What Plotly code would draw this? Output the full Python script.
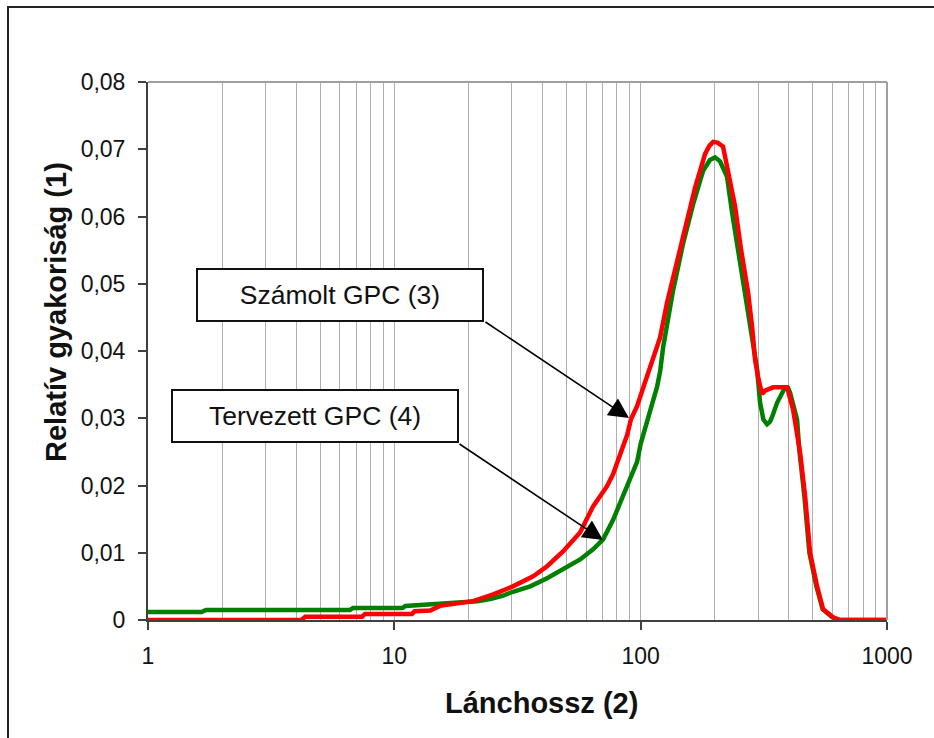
import plotly.graph_objects as go

# ---- data ----
green_x = [1, 1.65, 1.72, 6.6, 6.8, 10.8, 11.1, 14.9, 18.0, 21.7, 24.5, 27.5, 30.3, 35.6, 41.7,
           48.4, 56.8, 64.1, 70.4, 77.3, 84.8, 96.7, 100, 106.2, 112.3, 116.6, 120, 123.3, 135.4,
           148.7, 163.2, 179.2, 191, 200.5, 210, 224.2, 235, 253.2, 278.1, 296.9, 305.3, 315,
           326, 335, 341.6, 357.9, 385.8, 396.7, 404.2, 431.5, 440, 462, 484, 517, 548, 600,
           640, 1000]
green_y = [0.0012, 0.0012, 0.0015, 0.0015, 0.0018, 0.0018, 0.0021, 0.0024, 0.0026, 0.0028,
           0.0031, 0.0036, 0.0042, 0.0050, 0.0062, 0.0075, 0.0090, 0.0105, 0.0120, 0.0149,
           0.0184, 0.0235, 0.0262, 0.0295, 0.0325, 0.0347, 0.0370, 0.0405, 0.0490, 0.0560, 0.0618,
           0.0668, 0.0684, 0.0688, 0.0682, 0.0659, 0.0606, 0.0532, 0.0432, 0.0373, 0.0323,
           0.0298, 0.0291, 0.0295, 0.0302, 0.0323, 0.0346, 0.0345, 0.0338, 0.0298, 0.0255,
           0.0184, 0.0100, 0.0050, 0.0016, 0.0004, 0.0, 0.0]

red_x = [1, 4.2, 4.35, 7.4, 7.6, 11.8, 12.1, 14.0, 15.3, 18.0, 20.9, 25.2, 30.3, 36.6, 41.7,
         48.4, 56.75, 64.1, 73.0, 77.3, 82.5, 88.1, 91.4, 96.7, 102.3, 112.3, 119.9, 128.0,
         141.9, 154.3, 166.3, 182.6, 190, 196.8, 205, 216, 224.2, 241.7, 255.6, 273.0, 283.4,
         291.4, 300, 311.1, 320, 344.8, 370, 392.9, 415.6, 435.6, 443.8, 465.1, 487.3, 520.3,
         550.3, 604.2, 645, 1000]
red_y = [0.0, 0.0, 0.0005, 0.0005, 0.0009, 0.0009, 0.0013, 0.0014, 0.0021, 0.0025, 0.0028,
         0.0038, 0.0050, 0.0065, 0.0080, 0.0102, 0.0130, 0.0169, 0.0199, 0.0217, 0.0245,
         0.0275, 0.0299, 0.0318, 0.0345, 0.0390, 0.0420, 0.0472, 0.0538, 0.0590, 0.0643,
         0.0693, 0.0705, 0.0711, 0.0710, 0.0704, 0.0674, 0.0615, 0.0551, 0.0487, 0.0436,
         0.0387, 0.0360, 0.0336, 0.0341, 0.0346, 0.0346, 0.0346, 0.0313, 0.0273, 0.0249,
         0.0184, 0.0100, 0.0050, 0.0016, 0.0004, 0.0, 0.0]

x_major = [1, 10, 100, 1000]
x_major_text = ["1", "10", "100", "1000"]
x_minor = [m * d for d in (1, 10, 100) for m in range(2, 10)]
y_ticks = [0, 0.01, 0.02, 0.03, 0.04, 0.05, 0.06, 0.07, 0.08]
y_ticktext = ["0", "0,01", "0,02", "0,03", "0,04", "0,05", "0,06", "0,07", "0,08"]

label_green = "Tervezett GPC (4)"
label_red = "Számolt GPC (3)"
x_title = "Lánchossz (2)"
y_title = "Relatív gyakoriság (1)"

FONT = "Liberation Sans, Arial, sans-serif"
W, H = 934, 738
L, R, T, B = 148, 47, 82, 118
PW, PH = W - L - R, H - T - B


def px(xp):
    return (xp - L) / PW


def py(yp):
    return (H - B - yp) / PH


fig = go.Figure()
fig.add_trace(go.Scatter(x=green_x, y=green_y, mode="lines", name=label_green,
                         line=dict(color="#008000", width=4.5), showlegend=False))
fig.add_trace(go.Scatter(x=red_x, y=red_y, mode="lines", name=label_red,
                         line=dict(color="#FF0000", width=4.5), showlegend=False))

grid = "#b0b0b0"
fig.update_xaxes(type="log", range=[0, 3], tickmode="array", tickvals=x_major,
                 ticktext=x_major_text, showgrid=True, gridcolor=grid, gridwidth=1.3,
                 minor=dict(tickmode="array", tickvals=x_minor, showgrid=True,
                            gridcolor=grid, gridwidth=1.3, ticks=""),
                 showline=True, linecolor="#404040", linewidth=2, ticks="outside",
                 ticklen=8, tickwidth=1.5, tickcolor="#404040", zeroline=False,
                 tickfont=dict(family=FONT, size=23, color="#111"),
                 ticklabelstandoff=6)
fig.update_yaxes(range=[0, 0.08], tickmode="array", tickvals=y_ticks, ticktext=y_ticktext,
                 showgrid=False, zeroline=False, showline=True, linecolor="#404040",
                 linewidth=2, ticks="outside", ticklen=8, tickwidth=1.5, tickcolor="#404040",
                 tickfont=dict(family=FONT, size=23, color="#111"), ticklabelstandoff=8)

shapes = [
    # plot area top and right border
    dict(type="line", xref="paper", yref="paper", x0=0, x1=1, y0=1, y1=1,
         line=dict(color="#a0a0a0", width=2)),
    dict(type="line", xref="paper", yref="paper", x0=1, x1=1, y0=0, y1=1,
         line=dict(color="#a0a0a0", width=2)),
    # outer chart border
    dict(type="rect", xref="paper", yref="paper", x0=px(8), x1=px(950), y0=py(760), y1=py(7),
         line=dict(color="#222", width=2), fillcolor="rgba(0,0,0,0)", layer="below"),
]

ann = []
# box labels
ann.append(dict(text=label_red, xref="paper", yref="paper", x=px(340), y=py(294.5),
                xanchor="center", yanchor="middle", showarrow=False, width=284, height=50,
                bgcolor="white", bordercolor="#111", borderwidth=2, borderpad=0,
                font=dict(family=FONT, size=26.5, color="#111")))
ann.append(dict(text=label_green, xref="paper", yref="paper", x=px(315), y=py(416),
                xanchor="center", yanchor="middle", showarrow=False, width=284, height=50,
                bgcolor="white", bordercolor="#111", borderwidth=2, borderpad=0,
                font=dict(family=FONT, size=26.5, color="#111")))
# arrows
for hx, hy in [(629, 418), (603, 540)]:
    ann.append(dict(text="", xref="paper", yref="paper", x=px(hx), y=py(hy),
                    showarrow=True, ax=-145, ay=-97, arrowhead=2, arrowsize=2.5,
                    arrowwidth=1.6, arrowcolor="#000", standoff=0, startstandoff=0))
# axis titles
ann.append(dict(text="<b>" + x_title + "</b>", xref="paper", yref="paper", x=px(541),
                y=py(703), showarrow=False, xanchor="center", yanchor="middle",
                font=dict(family=FONT, size=29, color="#111")))
ann.append(dict(text="<b>" + y_title + "</b>", xref="paper", yref="paper", x=px(56),
                y=py(312), showarrow=False, xanchor="center", yanchor="middle",
                textangle=-90, font=dict(family=FONT, size=29, color="#111")))

fig.update_layout(width=W, height=H, margin=dict(l=L, r=R, t=T, b=B),
                  paper_bgcolor="white", plot_bgcolor="white", shapes=shapes,
                  annotations=ann, showlegend=False, font=dict(family=FONT))

fig.write_html("out.html")
